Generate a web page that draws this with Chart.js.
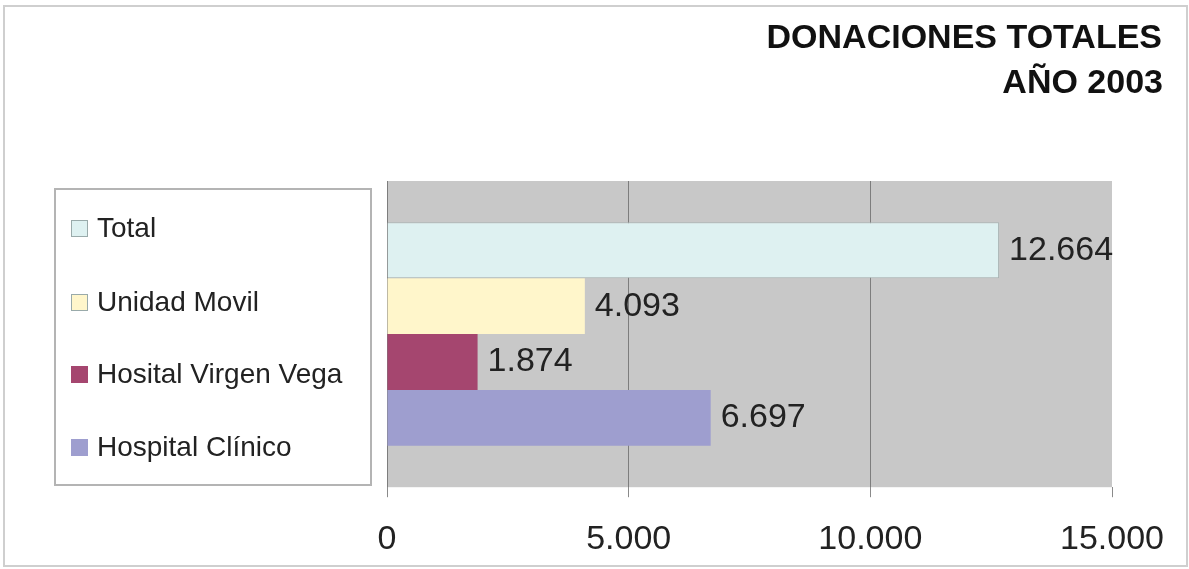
<!DOCTYPE html>
<html>
<head>
<meta charset="utf-8">
<script src="https://cdn.jsdelivr.net/npm/chart.js@4/dist/chart.umd.min.js"></script>
<style>
    html, body { margin: 0; padding: 0; background: #fff; }
    #wrap { width: 1189px; height: 569px; position: relative; }
</style>
</head>
<body>
<div id="wrap"><canvas id="chart" width="1189" height="569"></canvas></div>
<script>
// --- Data ---
const categories = ["2003"];
const seriesNames = ["Total", "Unidad Movil", "Hosital Virgen Vega", "Hospital Clínico"];
const seriesValues = [12664, 4093, 1874, 6697];
const axisTicks = [0, 5000, 10000, 15000];
const titleLines = ["DONACIONES TOTALES", "AÑO 2003"];

// --- Styles ---
const FONT = "'Liberation Sans', Arial, sans-serif";
const barColors = ["#def1f1", "#fff6cb", "#a5466f", "#9e9ecf"];
const barBorders = ["#a9b4b4", "#fff6cb", "#a5466f", "#9e9ecf"];

// thousands separator with a dot, e.g. 12.664
function fmt(v) {
    return String(v).replace(/\B(?=(\d{3})+(?!\d))/g, ".");
}

const decorPlugin = {
    id: "decor",
    beforeDraw(chart) {
        const { ctx, chartArea: a } = chart;
        ctx.save();
        // outer frame
        ctx.strokeStyle = "#cfcfcf";
        ctx.lineWidth = 2;
        ctx.strokeRect(4, 6, chart.width - 6, chart.height - 9);
        // plot background
        ctx.fillStyle = "#c8c8c8";
        ctx.fillRect(a.left, a.top, a.right - a.left, a.bottom - a.top);
        ctx.restore();
    },
    afterDraw(chart) {
        const { ctx } = chart;
        ctx.save();

        // title, right aligned
        ctx.fillStyle = "#111";
        ctx.font = "bold 34px " + FONT;
        ctx.textAlign = "right";
        ctx.textBaseline = "alphabetic";
        ctx.fillText(titleLines[0], 1162, 48);
        ctx.fillText(titleLines[1], 1163, 93);

        // legend box
        ctx.strokeStyle = "#b4b4b4";
        ctx.lineWidth = 2;
        ctx.strokeRect(55, 189, 316, 296);
        ctx.font = "28px " + FONT;
        ctx.textAlign = "left";
        ctx.textBaseline = "middle";
        const rowY = [228, 302, 374, 447];
        chart.data.datasets.forEach((ds, i) => {
            ctx.fillStyle = ds.backgroundColor;
            ctx.fillRect(71, rowY[i] - 8, 17, 17);
            ctx.strokeStyle = "#9aa";
            ctx.lineWidth = 1;
            if (i < 2) ctx.strokeRect(71.5, rowY[i] - 7.5, 16, 16);
            ctx.fillStyle = "#222";
            ctx.fillText(ds.label, 97, rowY[i] + 1);
        });

        // value labels at bar ends
        ctx.font = "34px " + FONT;
        ctx.fillStyle = "#222";
        chart.data.datasets.forEach((ds, i) => {
            const bar = chart.getDatasetMeta(i).data[0];
            ctx.fillText(fmt(ds.data[0]), bar.x + 10, bar.y);
        });
        ctx.restore();
    }
};

new Chart(document.getElementById("chart"), {
    type: "bar",
    data: {
        labels: categories,
        datasets: seriesNames.map((name, i) => ({
            label: name,
            data: [seriesValues[i]],
            backgroundColor: barColors[i],
            borderColor: barBorders[i],
            borderWidth: i === 0 ? 1 : 0,
            categoryPercentage: 0.73,
            barPercentage: 1.0
        }))
    },
    options: {
        indexAxis: "y",
        responsive: false,
        animation: false,
        layout: { padding: { top: 181, left: 387, right: 77, bottom: -13 } },
        plugins: {
            legend: { display: false },
            title: { display: false },
            tooltip: { enabled: false }
        },
        scales: {
            x: {
                min: 0,
                max: 15000,
                afterBuildTicks: (axis) => { axis.ticks = axisTicks.map(v => ({ value: v })); },
                border: { display: false },
                grid: {
                    color: (c) => (c.tick && c.tick.value === 15000) ? "rgba(0,0,0,0)" : "#7d7d7d",
                    tickColor: "#8a8a8a",
                    tickLength: 10,
                    lineWidth: 1
                },
                ticks: {
                    color: "#222",
                    font: { family: FONT, size: 34 },
                    padding: 22,
                    maxRotation: 0,
                    callback: (v) => fmt(v)
                }
            },
            y: {
                display: false
            }
        }
    },
    plugins: [decorPlugin]
});
</script>
</body>
</html>
